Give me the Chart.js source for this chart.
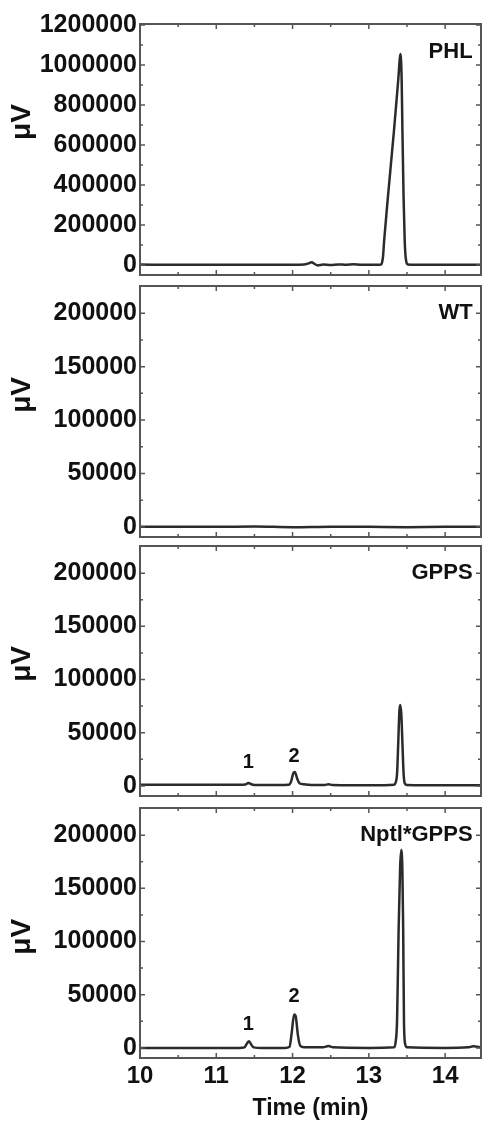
<!DOCTYPE html>
<html>
<head>
<meta charset="utf-8">
<script src="https://cdn.jsdelivr.net/npm/chart.js@4.4.1/dist/chart.umd.min.js"></script>
<style>
body{margin:0;background:#fff;width:482px;height:1122px;overflow:hidden;position:relative}
.panel{position:absolute;left:0;width:482px}
canvas{display:block}
</style>
</head>
<body>
<div class="panel" style="top:0px"><canvas id="c1" width="482" height="280"></canvas></div>
<div class="panel" style="top:280px"><canvas id="c2" width="482" height="262"></canvas></div>
<div class="panel" style="top:542px"><canvas id="c3" width="482" height="259"></canvas></div>
<div class="panel" style="top:801px"><canvas id="c4" width="482" height="321"></canvas></div>
<script>
const fuente='"Liberation Sans", Arial, sans-serif'

// ejes
const ejeX=[10,11,12,13,14]
const ejeXMenor=[10.5,11.5,12.5,13.5]
const ejeY1=[0,200000,400000,600000,800000,1000000,1200000]
const ejeY1Menor=[100000,300000,500000,700000,900000,1100000]
const ejeY=[0,50000,100000,150000,200000]
const ejeYMenor=[25000,75000,125000,175000]

// cromatogramas (tiempo en min, señal en uV)
const tiempoPHL=[10.0,10.5,11.0,11.5,12.0,12.15,12.21,12.25,12.29,12.33,12.4,12.5,12.6,12.7,12.8,12.9,13.0,13.1,13.16,13.185,13.20,13.25,13.33,13.385,13.415,13.43,13.44,13.455,13.47,13.485,13.51,13.6,14.0,14.47]
const senalPHL=[2000,1000,1000,1000,1000,2000,8000,14000,5000,-2000,2000,0,3000,1000,4000,1000,1000,1000,2000,40000,120000,341000,675000,925000,1055000,925000,675000,341000,120000,30000,3000,1000,1000,1000]

const tiempoWT=[10.0,10.5,11.0,11.5,12.0,12.5,13.0,13.5,14.0,14.47]
const senalWT=[0,0,0,300,-300,200,0,-300,0,0]

const tiempoGPPS=[10.0,10.5,11.0,11.3,11.38,11.42,11.46,11.5,11.8,11.95,11.98,12.01,12.03,12.06,12.09,12.15,12.3,12.42,12.47,12.52,12.8,13.2,13.33,13.35,13.37,13.385,13.40,13.41,13.425,13.44,13.455,13.47,13.50,14.0,14.47]
const senalGPPS=[1000,1000,1000,1000,1300,2800,1500,900,800,1000,4000,12000,13000,7000,2500,1500,800,800,1500,800,600,600,1000,3000,12000,40000,70000,76000,68000,40000,12000,2500,800,500,500]

const tiempoNptl=[10.0,10.5,11.0,11.3,11.37,11.40,11.43,11.46,11.49,11.6,11.9,11.96,11.99,12.02,12.04,12.07,12.10,12.15,12.4,12.47,12.53,13.0,13.33,13.35,13.37,13.39,13.41,13.425,13.44,13.45,13.46,13.475,13.50,14.0,14.3,14.37,14.47]
const senalNptl=[0,0,0,0,500,4000,6200,3000,500,0,0,1000,15000,31500,30000,12000,2000,500,500,1800,500,0,500,5000,26600,111000,170000,186000,165000,111000,26600,4000,500,0,500,1500,500]

// etiquetas de picos
const picos=['1','2']
const picosX=[11.42,12.02]
const picosYGPPS=[21600,27300]
const picosYNptl=[21800,48100]

const paneles=[
    {id:'c1',nombre:'PHL',t:tiempoPHL,s:senalPHL,min:-50000,max:1205000,ticks:ejeY1,menores:ejeY1Menor,nombreY:1065000,unidadY:715000,picosY:[],arriba:24,abajo:5},
    {id:'c2',nombre:'WT',t:tiempoWT,s:senalWT,min:-9500,max:225500,ticks:ejeY,menores:ejeYMenor,nombreY:200000,unidadY:123500,picosY:[],arriba:6,abajo:5},
    {id:'c3',nombre:'GPPS',t:tiempoGPPS,s:senalGPPS,min:-9500,max:225500,ticks:ejeY,menores:ejeYMenor,nombreY:200000,unidadY:114700,picosY:picosYGPPS,arriba:4,abajo:5},
    {id:'c4',nombre:'Nptl*GPPS',t:tiempoNptl,s:senalNptl,min:-9500,max:225500,ticks:ejeY,menores:ejeYMenor,nombreY:200000,unidadY:104400,picosY:picosYNptl,arriba:7,abajo:64,ultimo:true}
]

function crearMarco(panel){
    return {
        id:'marco',
        afterDatasetsDraw(chart){
            const {ctx,chartArea:a,scales:{x,y}}=chart
            ctx.save()
            ctx.strokeStyle='#555'
            ctx.lineWidth=2
            ctx.strokeRect(a.left,a.top,a.right-a.left,a.bottom-a.top)

            ctx.lineWidth=1.5
            const marcaX=(v,largo)=>{
                const px=x.getPixelForValue(v)
                ctx.beginPath()
                ctx.moveTo(px,a.top); ctx.lineTo(px,a.top+largo)
                ctx.moveTo(px,a.bottom); ctx.lineTo(px,a.bottom-largo)
                ctx.stroke()
            }
            const marcaY=(v,largo)=>{
                const py=y.getPixelForValue(v)
                ctx.beginPath()
                ctx.moveTo(a.left,py); ctx.lineTo(a.left+largo,py)
                ctx.moveTo(a.right,py); ctx.lineTo(a.right-largo,py)
                ctx.stroke()
            }
            ejeX.forEach(v=>marcaX(v,5))
            ejeXMenor.forEach(v=>marcaX(v,3))
            panel.ticks.forEach(v=>marcaY(v,5))
            panel.menores.forEach(v=>marcaY(v,3))

            ctx.fillStyle='#111'
            ctx.font='bold 22px '+fuente
            ctx.textAlign='right'
            ctx.textBaseline='middle'
            ctx.fillText(panel.nombre,x.getPixelForValue(14.36),y.getPixelForValue(panel.nombreY))

            ctx.font='bold 20px '+fuente
            ctx.textAlign='center'
            panel.picosY.forEach((v,i)=>{
                ctx.fillText(picos[i],x.getPixelForValue(picosX[i]),y.getPixelForValue(v))
            })

            ctx.font='bold 28px '+fuente
            ctx.translate(22,y.getPixelForValue(panel.unidadY))
            ctx.rotate(-Math.PI/2)
            ctx.fillText('μV',0,0)
            ctx.restore()
        }
    }
}

function dibujarPanel(panel){
    const puntos=panel.t.map((t,i)=>({x:t,y:panel.s[i]}))
    new Chart(document.getElementById(panel.id),{
        type:'line',
        data:{
            datasets:[{
                data:puntos,
                borderColor:'#2b2b2b',
                borderWidth:2.5,
                pointRadius:0,
                cubicInterpolationMode:'monotone',
                fill:false
            }]
        },
        options:{
            responsive:false,
            animation:false,
            layout:{padding:{top:panel.arriba,right:1,left:0,bottom:0}},
            plugins:{legend:{display:false},tooltip:{enabled:false}},
            scales:{
                x:{
                    type:'linear',
                    min:10,
                    max:14.47,
                    afterBuildTicks:s=>{s.ticks=ejeX.map(v=>({value:v}))},
                    afterFit:s=>{
                        s.height=panel.abajo
                        s.paddingLeft=0
                        s.paddingRight=0
                    },
                    grid:{display:false,drawTicks:false},
                    border:{display:false},
                    ticks:{display:!!panel.ultimo,color:'#111',padding:4,font:{family:fuente,size:24,weight:'bold'}},
                    title:{display:!!panel.ultimo,text:'Time (min)',color:'#111',padding:{top:0,bottom:0},font:{family:fuente,size:23,weight:'bold'}}
                },
                y:{
                    min:panel.min,
                    max:panel.max,
                    afterBuildTicks:s=>{s.ticks=panel.ticks.map(v=>({value:v}))},
                    afterFit:s=>{
                        s.width=140
                        s.paddingTop=0
                        s.paddingBottom=0
                    },
                    grid:{display:false,drawTicks:false},
                    border:{display:false},
                    ticks:{color:'#111',padding:3,font:{family:fuente,size:25,weight:'bold'},callback:v=>String(v)}
                }
            }
        },
        plugins:[crearMarco(panel)]
    })
}

paneles.forEach(dibujarPanel)
</script>
</body>
</html>
